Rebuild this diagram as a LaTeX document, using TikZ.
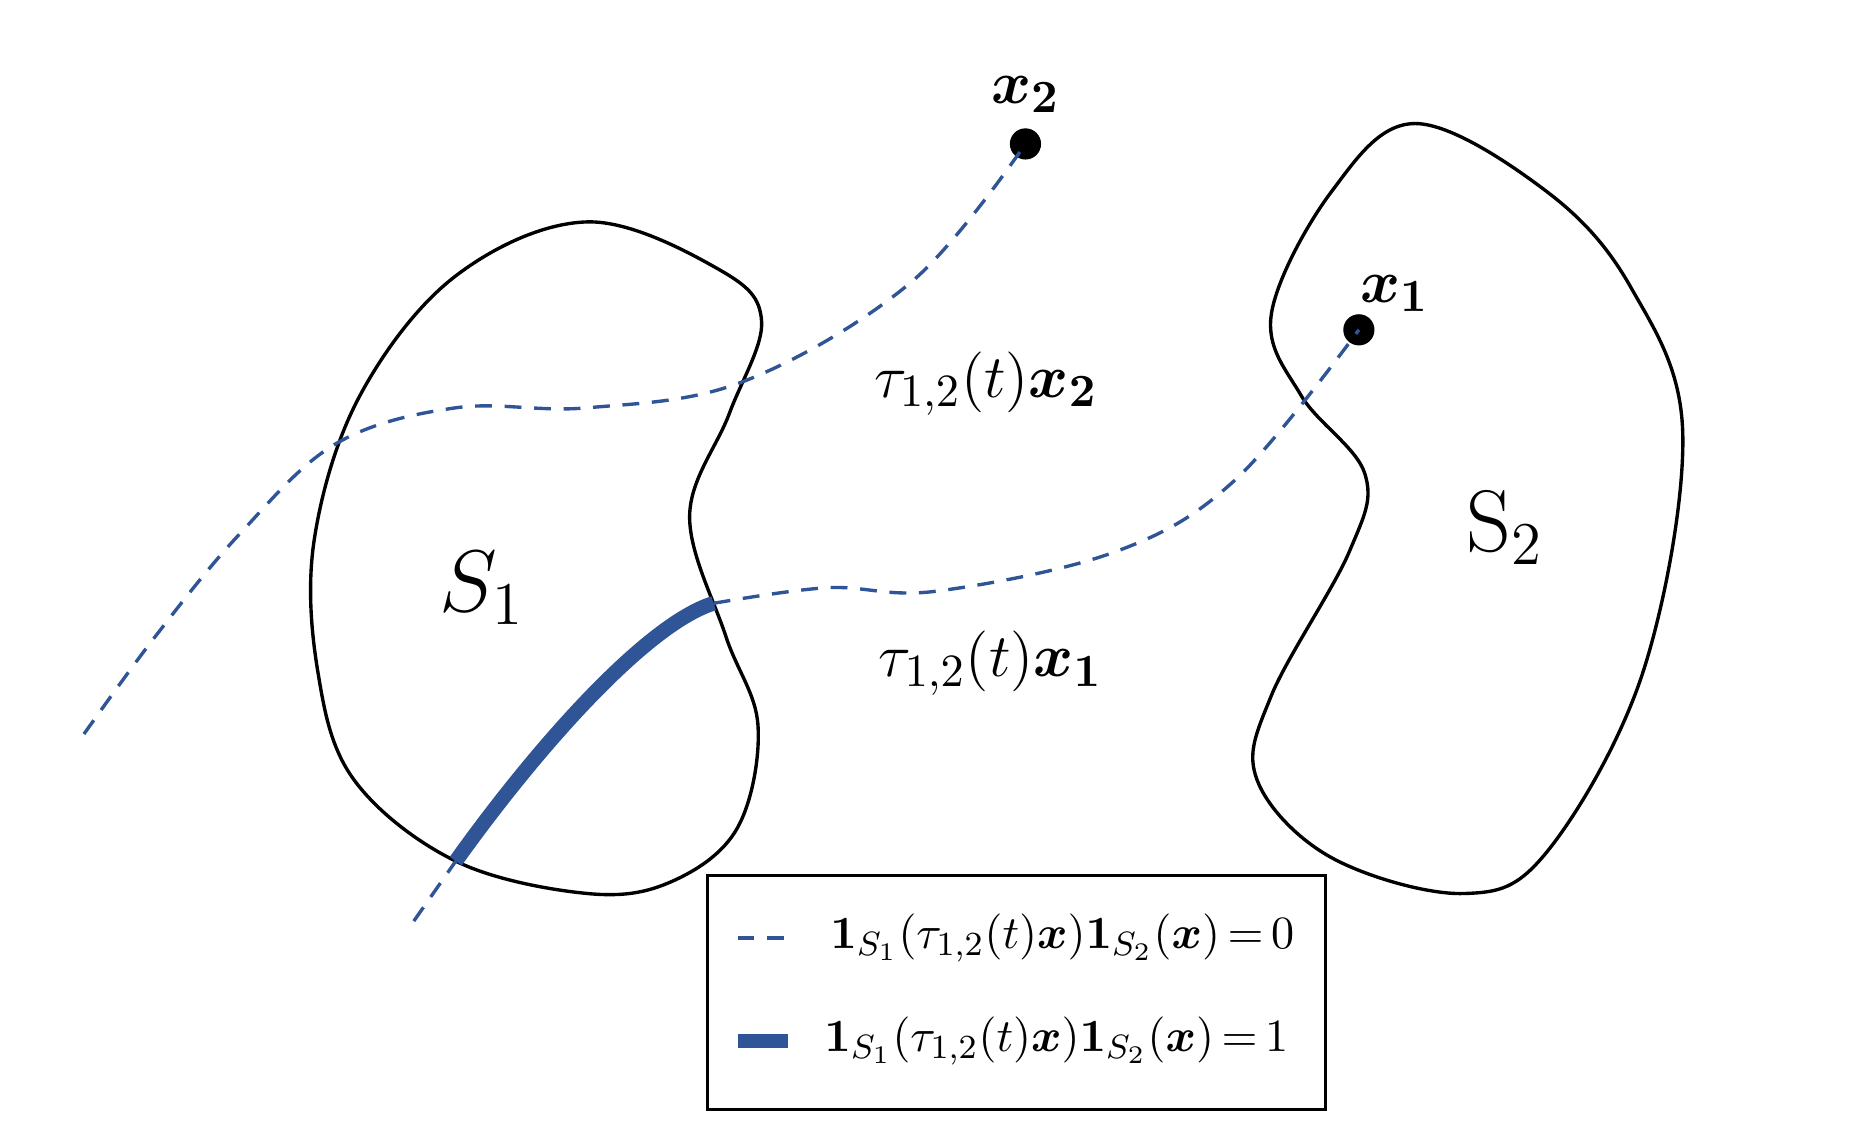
\documentclass[tikz,border=0pt]{standalone}
\usepackage{amsmath,amssymb,bm}
\usetikzlibrary{positioning}
\definecolor{pathblue}{RGB}{47,85,151}
\tikzset{
  region/.style = {draw, thick, line join=round},
  outpath/.style = {pathblue, thick, dash pattern=on 4pt off 3pt},
  inpath/.style = {pathblue, line width=3.5pt},
  dot/.style = {circle, fill=black, inner sep=0pt, minimum size=0.26cm},
  lbl/.style = {font=\fontsize{15}{18}\selectfont},
  leglbl/.style = {font=\fontsize{11.3}{14}\selectfont, anchor=west}
}
\begin{document}
\begin{tikzpicture}[x=0.01cm,y=-0.01cm]
    \useasboundingbox (0,0) rectangle (1560,945);

    % the two regions
    \draw[region] plot[smooth cycle, tension=0.6] coordinates {(490,185) (600,225) (635,268) (608,345) (575,430) (605,530) (632,605) (615,690) (560,735) (490,745) (380,718) (295,650) (265,560) (262,450) (300,330) (380,230)};
    \draw[region] plot[smooth cycle, tension=0.6] coordinates {(1180,103) (1110,160) (1060,262) (1085,330) (1138,395) (1125,460) (1060,580) (1048,650) (1110,715) (1220,745) (1290,710) (1370,560) (1403,360) (1360,240) (1290,160)};

    % points
    \node[dot] (x2) at (855,120) {};
    \node[dot] (x1) at (1133,275) {};
    \node[lbl, above=0pt of x2] {$\bm{x_2}$};
    \node[lbl, above right=-2pt and -6pt of x1] {$\bm{x_1}$};
    \node[font=\fontsize{22}{26}\selectfont] (s1) at (402,490) {$S_1$};
    \node[font=\fontsize{22}{26}\selectfont] (s2) at (1255,440) {$\mathrm{S}_2$};
    \node[lbl] (t2) at (822,320) {$\tau_{1,2}(t)\bm{x_2}$};
    \node[lbl] (t1) at (826,553) {$\tau_{1,2}(t)\bm{x_1}$};

    % trajectories
    \coordinate (a0) at (70,612);
    \coordinate (b0) at (345,768);
    \coordinate (b1) at (380,718);
    \coordinate (b2) at (595,503);
    \draw[outpath] plot[smooth, tension=0.6] coordinates {(a0) (130,530) (200,445) (280,370) (380,340) (490,340) (620,318) (760,235) (x2)};
    \draw[outpath] (b0) -- (b1);
    \draw[inpath] (b1) .. controls (450,620) and (540,520) .. (b2);
    \draw[outpath] plot[smooth, tension=0.6] coordinates {(b2) (690,490) (780,493) (930,460) (1030,400) (x1)};

    % legend
    \node[draw, thick, minimum width=5.15cm, minimum height=1.95cm] (leg) at (847.5,827.5) {};
    \coordinate (l1) at (615,782);
    \coordinate (l2) at (615,868);
    \draw[outpath] (l1) -- ++(45,0);
    \draw[inpath] (l2) -- ++(42,0);
    \node[leglbl] at (680,782) {$\mathbf{1}_{S_1}(\tau_{1,2}(t)\bm{x})\mathbf{1}_{S_2}(\bm{x})\mkern-2mu=\mkern-2mu0$};
    \node[leglbl] at (675,868) {$\mathbf{1}_{S_1}(\tau_{1,2}(t)\bm{x})\mathbf{1}_{S_2}(\bm{x})\mkern-2mu=\mkern-2mu1$};
\end{tikzpicture}
\end{document}
